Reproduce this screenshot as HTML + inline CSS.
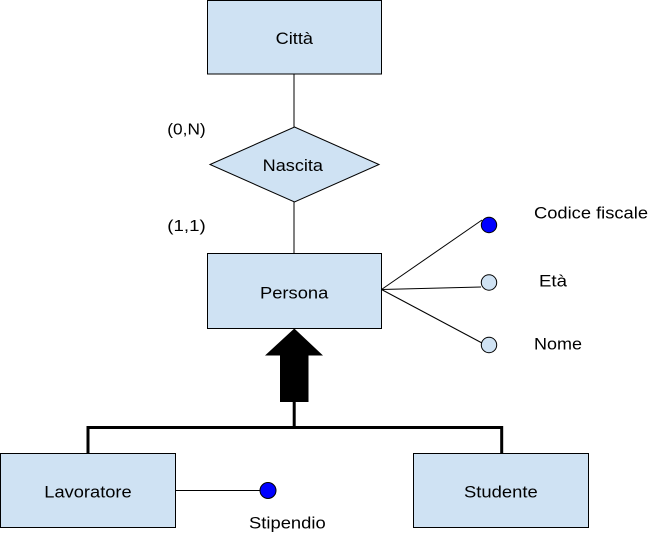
<!DOCTYPE html>
<html><head><meta charset="utf-8"><style>
html,body{margin:0;padding:0;background:#fff;}
svg{display:block;}
text{font-family:"Liberation Sans",Arial,sans-serif;fill:#000;}
</style></head><body>
<svg width="649" height="534" viewBox="0 0 649 534" xmlns="http://www.w3.org/2000/svg">
<!-- connectors -->
<line x1="294" y1="74" x2="294" y2="127" stroke="#000" stroke-width="1"/>
<line x1="294" y1="202" x2="294" y2="254" stroke="#000" stroke-width="1"/>
<line x1="381.5" y1="289.5" x2="482" y2="220" stroke="#000" stroke-width="1"/>
<line x1="381.5" y1="289.5" x2="481" y2="287" stroke="#000" stroke-width="1"/>
<line x1="381.5" y1="289.5" x2="482" y2="343" stroke="#000" stroke-width="1"/>
<line x1="176" y1="490.5" x2="261" y2="490.5" stroke="#000" stroke-width="1"/>
<!-- generalization tree -->
<line x1="294.2" y1="401" x2="294.2" y2="428" stroke="#000" stroke-width="3"/>
<polyline points="88,454 88,427.5 501.7,427.5 501.7,454" fill="none" stroke="#000" stroke-width="3"/>
<polygon points="294.3,328.5 265,355.5 280,355.5 280,402 308.5,402 308.5,355.5 323,355.5" fill="#000"/>
<!-- entities -->
<rect x="207.5" y="0.5" width="174" height="73.5" fill="#cfe2f3" stroke="#000" stroke-width="1"/>
<polygon points="294.5,127 379,164.5 294.5,202 210,164.5" fill="#cfe2f3" stroke="#000" stroke-width="1"/>
<rect x="207.5" y="253.5" width="174" height="75" fill="#cfe2f3" stroke="#000" stroke-width="1"/>
<rect x="0.5" y="453.5" width="175" height="74" fill="#cfe2f3" stroke="#000" stroke-width="1"/>
<rect x="413.5" y="453.5" width="175" height="74" fill="#cfe2f3" stroke="#000" stroke-width="1"/>
<!-- attribute circles -->
<circle cx="489" cy="225" r="7.7" fill="#0000ff" stroke="#000" stroke-width="1"/>
<circle cx="489" cy="282.5" r="7.7" fill="#cfe2f3" stroke="#000" stroke-width="1"/>
<circle cx="489" cy="345" r="7.7" fill="#cfe2f3" stroke="#000" stroke-width="1"/>
<circle cx="268" cy="490.5" r="8" fill="#0000ff" stroke="#000" stroke-width="1"/>
<!-- labels -->
<text x="275.7" y="44" font-size="17" textLength="37.3" lengthAdjust="spacingAndGlyphs">Città</text>
<text x="262.7" y="171" font-size="17" textLength="60.3" lengthAdjust="spacingAndGlyphs">Nascita</text>
<text x="260" y="298.3" font-size="17" textLength="68.3" lengthAdjust="spacingAndGlyphs">Persona</text>
<text x="44.3" y="497.7" font-size="17" textLength="87.4" lengthAdjust="spacingAndGlyphs">Lavoratore</text>
<text x="464" y="497.7" font-size="17" textLength="73.7" lengthAdjust="spacingAndGlyphs">Studente</text>
<text x="249" y="528.5" font-size="17" textLength="76.7" lengthAdjust="spacingAndGlyphs">Stipendio</text>
<text x="167.3" y="134.5" font-size="16" textLength="38.4" lengthAdjust="spacingAndGlyphs">(0,N)</text>
<text x="167.3" y="231" font-size="16" textLength="38.4" lengthAdjust="spacingAndGlyphs">(1,1)</text>
<text x="534" y="218.5" font-size="17" textLength="114" lengthAdjust="spacingAndGlyphs">Codice fiscale</text>
<text x="539" y="286.7" font-size="17" textLength="28" lengthAdjust="spacingAndGlyphs">Età</text>
<text x="534" y="349.3" font-size="17" textLength="48" lengthAdjust="spacingAndGlyphs">Nome</text>
</svg>
</body></html>
